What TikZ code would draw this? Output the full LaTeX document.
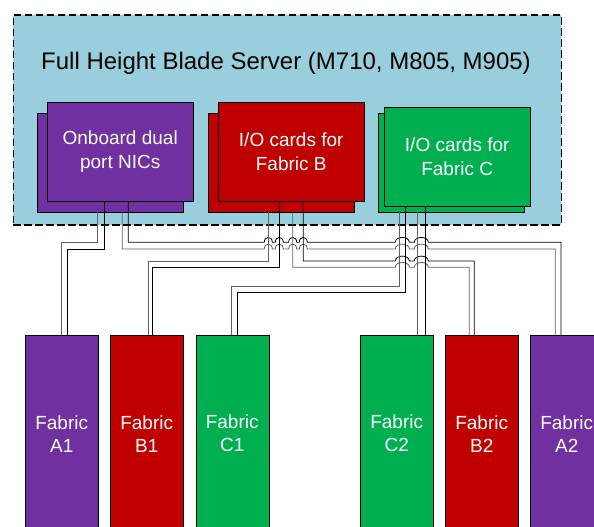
\documentclass[tikz,border=0pt]{standalone}
\usepackage{fontspec}
\setmainfont{Liberation Sans}
\usepackage{tikz}
\usetikzlibrary{arrows.meta, positioning}
\definecolor{bladeblue}{HTML}{99CFDD}
\definecolor{fabpurple}{HTML}{7030A0}
\definecolor{fabred}{HTML}{C00000}
\definecolor{fabgreen}{HTML}{00B050}

\begin{document}
\begin{tikzpicture}[
  x=1pt, y=-1pt,
  server/.style={draw, fill=bladeblue, line width=1.6pt, dash pattern=on 7.5pt off 3.5pt, anchor=north west, inner sep=0pt, minimum width=548pt, minimum height=210pt},
  card/.style={draw, thin, anchor=north west, inner sep=0pt, minimum width=146pt, minimum height=99pt, text=white, align=center, font=\fontsize{19}{24}\selectfont},
  fabric/.style={draw, thin, anchor=north west, inner sep=0pt, minimum width=73pt, minimum height=197pt, text=white, align=center, font=\fontsize{19}{23}\selectfont},
  wire/.style={line width=0.8pt, gray!75!black},
  wirek/.style={line width=0.8pt, black}
]
\useasboundingbox (0,0) rectangle (594,527);

% Server enclosure
\node[server] (server) at (12.5,14) {};
\node[font=\fontsize{24}{28}\selectfont] (title) at (286,63) {Full Height Blade Server (M710, M805, M905)};

% Onboard NICs
\node[card, fill=fabpurple] (nicB) at (37,113) {};
\node[card, fill=fabpurple] (nicF) at (47,102) {Onboard dual\\port NICs};

% I/O cards for Fabric B
\node[card, fill=fabred] (ioBb) at (208,113) {};
\node[card, fill=fabred] (ioBf) at (218,102) {I/O cards for\\Fabric B};

% I/O cards for Fabric C
\node[card, fill=fabgreen] (ioCb) at (378,113) {};
\node[card, fill=fabgreen] (ioCf) at (384,107) {I/O cards for\\Fabric C};

% Fabric modules
\node[fabric, fill=fabpurple] (fA1) at (25,335) {Fabric\\A1};
\node[fabric, fill=fabred] (fB1) at (110,335) {Fabric\\B1};
\node[fabric, fill=fabgreen] (fC1) at (195.5,335) {Fabric\\C1};
\node[fabric, fill=fabgreen] (fC2) at (360,335) {Fabric\\C2};
\node[fabric, fill=fabred] (fB2) at (445,335) {Fabric\\B2};
\node[fabric, fill=fabpurple] (fA2) at (530,335) {Fabric\\A2};

% NICs -> A1
\draw[wire] (nicB.south -| 97.7,0) -- (97.7,242.3) -- (61.7,242.3) -- (fA1.north -| 61.7,0);
\draw[wirek] (nicF.south -| 104.3,0) -- (104.3,249) -- (67.3,249) -- (fA1.north -| 67.3,0);

% NICs -> A2 (hopping over B and C)
\draw[wire] (nicB.south -| 122.3,0) -- (122.3,249)
  foreach \c/\w in {268.3/4,279.3/4,292.7/4,303.3/4,402.3/7,421.3/7}
    { -- (\c-\w,249) .. controls (\c-\w,242.5) and (\c+\w,242.5) .. (\c+\w,249) }
  -- (555.3,249) -- (fA2.north -| 555.3,0);
\draw[wirek] (nicF.south -| 128.3,0) -- (128.3,242.3)
  foreach \c/\w in {268.3/4,279.3/4,292.7/4,303.3/4,402.3/7,421.3/7}
    { -- (\c-\w,242.3) .. controls (\c-\w,235.8) and (\c+\w,235.8) .. (\c+\w,242.3) }
  -- (561,242.3) -- (fA2.north -| 561,0);

% Fabric B cards -> B1, B2
\draw[wire] (ioBb.south -| 268.3,0) -- (268.3,261) -- (148.3,261) -- (fB1.north -| 148.3,0);
\draw[wirek] (ioBf.south -| 279.3,0) -- (279.3,267.3) -- (152.7,267.3) -- (fB1.north -| 152.7,0);
\draw[wire] (ioBb.south -| 292.7,0) -- (292.7,267.3)
  foreach \c/\w in {402.3/7,421.3/7}
    { -- (\c-\w,267.3) .. controls (\c-\w,260.8) and (\c+\w,260.8) .. (\c+\w,267.3) }
  -- (469.3,267.3) -- (fB2.north -| 469.3,0);
\draw[wirek] (ioBf.south -| 303.3,0) -- (303.3,261)
  foreach \c/\w in {402.3/7,421.3/7}
    { -- (\c-\w,261) .. controls (\c-\w,254.5) and (\c+\w,254.5) .. (\c+\w,261) }
  -- (474.3,261) -- (fB2.north -| 474.3,0);

% Fabric C cards -> C1, C2
\draw[wire] (ioCb.south -| 399.3,0) -- (399.3,286) -- (231.7,286) -- (fC1.north -| 231.7,0);
\draw[wirek] (ioCf.south -| 405.3,0) -- (405.3,292) -- (237.3,292) -- (fC1.north -| 237.3,0);
\draw[wire] (ioCb.south -| 417.3,0) -- (fC2.north -| 417.3,0);
\draw[wirek] (ioCf.south -| 425.3,0) -- (fC2.north -| 425.3,0);

\end{tikzpicture}
\end{document}
